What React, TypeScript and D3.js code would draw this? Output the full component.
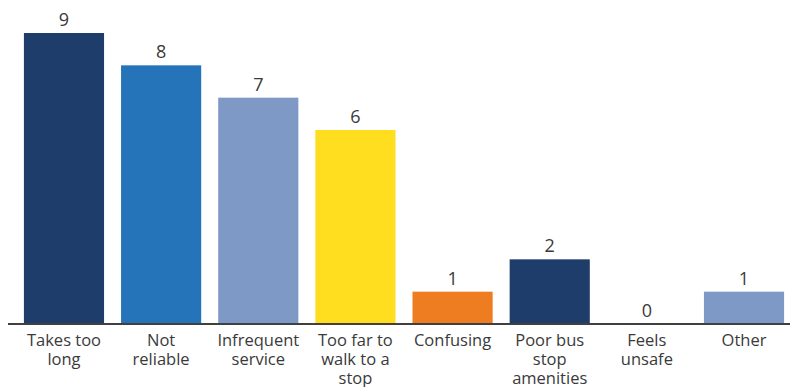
import React from "react";
import * as d3 from "d3";

const categories = [
  "Takes too\nlong",
  "Not\nreliable",
  "Infrequent\nservice",
  "Too far to\nwalk to a\nstop",
  "Confusing",
  "Poor bus\nstop\namenities",
  "Feels\nunsafe",
  "Other",
];
const values = [9, 8, 7, 6, 1, 2, 0, 1];
const colors = ["#1F3D6B", "#2574B9", "#7F99C6", "#FFDE1F", "#EE7D22", "#1F3D6B", "#7F99C6", "#7F99C6"];

const W = 790;
const H = 387;
const FONT = "'Open Sans', 'Noto Sans', sans-serif";

export default function App() {
  const x = d3.scaleBand<string>().domain(categories).range([14, 794]).paddingInner(0.175).paddingOuter(0.102);
  const y = d3.scaleLinear().domain([0, 9]).range([324, 33]);
  return (
    <svg width={W} height={H} style={{ position: "absolute", left: 0, top: 0, background: "#fff" }}>
      {categories.map((c, i) => (
        <g key={c}>
          <rect
            x={x(c)!}
            y={y(values[i])}
            width={x.bandwidth()}
            height={y(0) - y(values[i])}
            fill={colors[i]}
          />
          <text
            x={x(c)! + x.bandwidth() / 2}
            y={y(values[i]) - 7}
            textAnchor="middle"
            fontFamily={FONT}
            fontSize={18}
            fill="#3a3a3a"
          >
            {values[i]}
          </text>
          <text textAnchor="middle" fontFamily={FONT} fontSize={16.5} fill="#3a3a3a">
            {c.split("\n").map((line, j) => (
              <tspan key={j} x={x(c)! + x.bandwidth() / 2} y={346 + j * 19}>
                {line}
              </tspan>
            ))}
          </text>
        </g>
      ))}
      <line x1={8} x2={790} y1={y(0)} y2={y(0)} stroke="#404040" strokeWidth={2} />
    </svg>
  );
}
